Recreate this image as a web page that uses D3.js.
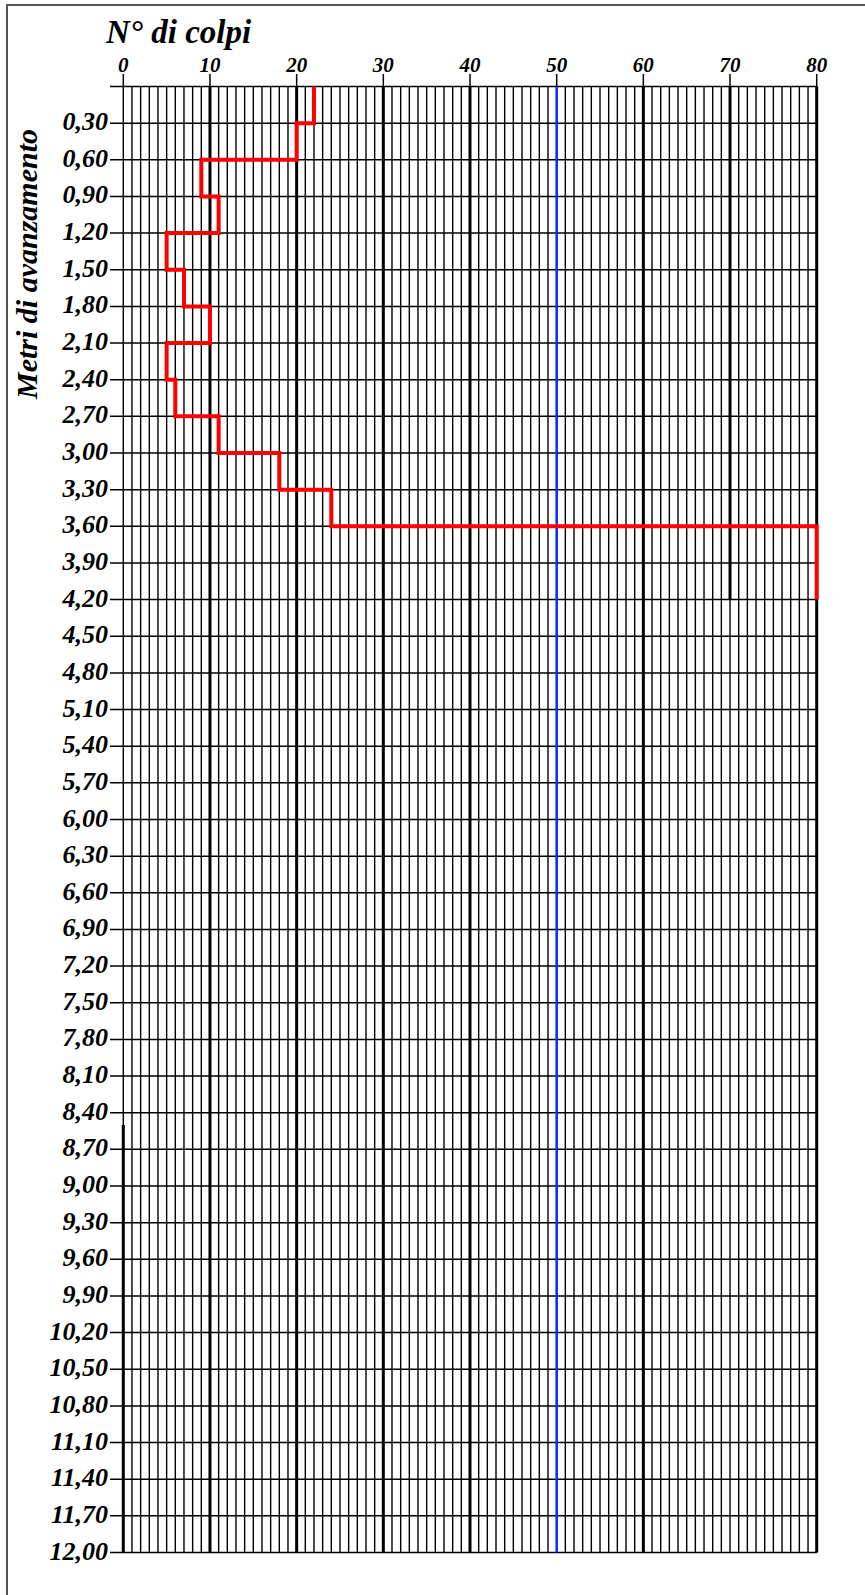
<!DOCTYPE html>
<html>
<head>
<meta charset="utf-8">
<script src="https://cdn.jsdelivr.net/npm/d3@7"></script>
<style>
  body { margin: 0; background: #fff; }
  text { font-family: "Liberation Serif", "Times New Roman", serif; font-weight: bold; font-style: italic; fill: #000; }
</style>
</head>
<body>
<div id="chart"></div>
<script>
// N° di colpi per tratto di 0,30 m
const depthTop = [0.00, 0.30, 0.60, 0.90, 1.20, 1.50, 1.80, 2.10, 2.40, 2.70, 3.00, 3.30, 3.60, 3.90];
const blows    = [22,   20,   9,    11,   5,    7,    10,   5,    6,    11,   18,   24,   80,   80];
const depthEnd = 4.20;

const depthTicks = [0.30, 0.60, 0.90, 1.20, 1.50, 1.80, 2.10, 2.40, 2.70, 3.00,
                    3.30, 3.60, 3.90, 4.20, 4.50, 4.80, 5.10, 5.40, 5.70, 6.00,
                    6.30, 6.60, 6.90, 7.20, 7.50, 7.80, 8.10, 8.40, 8.70, 9.00,
                    9.30, 9.60, 9.90, 10.20, 10.50, 10.80, 11.10, 11.40, 11.70, 12.00];
const blowTicks = [0, 10, 20, 30, 40, 50, 60, 70, 80];
const heavyLines = [10, 20, 30, 40, 60, 80];
const blueLines = [50];
const heavyParts = [{v: 70, from: 0, to: 4.20}, {v: 0, from: 8.50, to: 12.00}];

const W = 865, H = 1595;
const svg = d3.select('#chart').append('svg')
	.attr('width', W)
	.attr('height', H);

// cornice
svg.append('rect')
	.attr('x', 7).attr('y', 5)
	.attr('width', 900).attr('height', 1700)
	.attr('fill', 'none')
	.attr('stroke', '#555')
	.attr('stroke-width', 2);

const x = d3.scaleLinear().domain([0, 80]).range([123.3, 816.7]);
const y = d3.scaleLinear().domain([0, 12]).range([86.5, 1552.5]);

const grid = svg.append('g');

// linee sottili ogni colpo
grid.selectAll('.minor')
	.data(d3.range(0, 81))
	.join('line')
	.attr('x1', d => x(d)).attr('x2', d => x(d))
	.attr('y1', y(0)).attr('y2', y(12))
	.attr('stroke', '#000')
	.attr('stroke-width', 1.4);

// linee orizzontali + tacche
grid.selectAll('.row')
	.data([0].concat(depthTicks))
	.join('line')
	.attr('x1', 110).attr('x2', x(80))
	.attr('y1', d => y(d)).attr('y2', d => y(d))
	.attr('stroke', '#000')
	.attr('stroke-width', 1.5);

grid.selectAll('.heavy')
	.data(heavyLines)
	.join('line')
	.attr('x1', d => x(d)).attr('x2', d => x(d))
	.attr('y1', y(0)).attr('y2', y(12))
	.attr('stroke', '#000')
	.attr('stroke-width', 3);

grid.selectAll('.part')
	.data(heavyParts)
	.join('line')
	.attr('x1', d => x(d.v)).attr('x2', d => x(d.v))
	.attr('y1', d => y(d.from)).attr('y2', d => y(d.to))
	.attr('stroke', '#000')
	.attr('stroke-width', 3);

grid.selectAll('.blue')
	.data(blueLines)
	.join('line')
	.attr('x1', d => x(d)).attr('x2', d => x(d))
	.attr('y1', y(0)).attr('y2', y(12))
	.attr('stroke', '#0a2cff')
	.attr('stroke-width', 2.5);

// tacche in alto
grid.selectAll('.ttick')
	.data(blowTicks)
	.join('line')
	.attr('x1', d => x(d)).attr('x2', d => x(d))
	.attr('y1', 74).attr('y2', y(0))
	.attr('stroke', '#000')
	.attr('stroke-width', 1.5);

// etichette
svg.selectAll('.xlab')
	.data(blowTicks)
	.join('text')
	.attr('x', d => x(d))
	.attr('y', 72)
	.attr('text-anchor', 'middle')
	.attr('font-size', 21)
	.text(d => d);

const fmt = d => d.toFixed(2).replace('.', ',');
svg.selectAll('.ylab')
	.data(depthTicks)
	.join('text')
	.attr('x', 108)
	.attr('y', d => y(d) + 7)
	.attr('text-anchor', 'end')
	.attr('font-size', 26)
	.text(fmt);

svg.append('text')
	.attr('x', 106).attr('y', 43)
	.attr('font-size', 33)
	.text('N° di colpi');

svg.append('text')
	.attr('transform', 'translate(37,264) rotate(-90)')
	.attr('text-anchor', 'middle')
	.attr('font-size', 30)
	.text('Metri di avanzamento');

// diagramma penetrometrico
const pts = depthTop.map((d, i) => [blows[i], d]);
pts.push([blows[blows.length - 1], depthEnd]);

const line = d3.line()
	.x(d => x(d[0]))
	.y(d => y(d[1]))
	.curve(d3.curveStepBefore);

svg.append('path')
	.attr('d', line(pts))
	.attr('fill', 'none')
	.attr('stroke', '#ff0000')
	.attr('stroke-width', 4);
</script>
</body>
</html>
